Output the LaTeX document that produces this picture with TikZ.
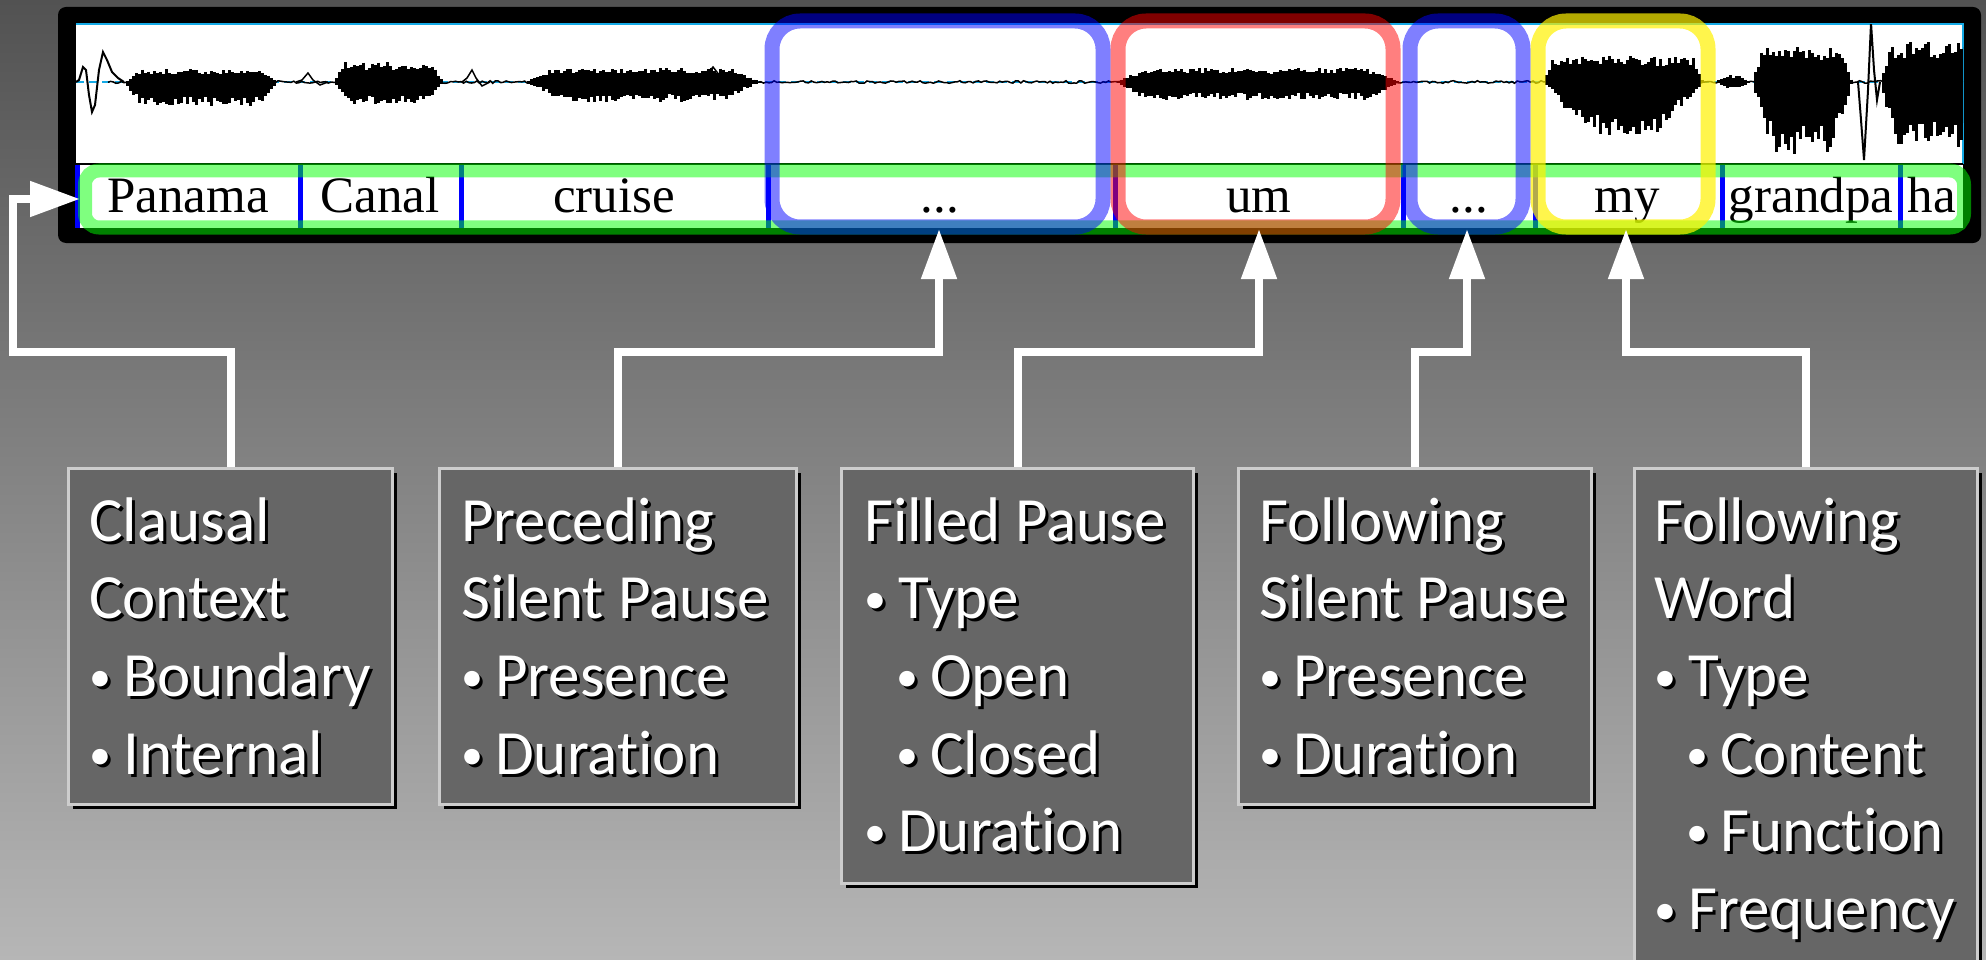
\documentclass[tikz,border=0pt]{standalone}
\usepackage{fontspec}
\setmainfont[Ligatures={NoCommon}]{Carlito}
\newfontfamily\tierfont{Liberation Serif}
\usetikzlibrary{arrows.meta}
\definecolor{bgtop}{RGB}{82,82,82}
\definecolor{bgbot}{RGB}{182,182,182}
\definecolor{boxfill}{RGB}{102,102,102}
\definecolor{boxline}{RGB}{205,205,205}
\definecolor{tiercyan}{RGB}{20,170,230}
\newcommand\bul{\makebox[34pt][l]{\raisebox{5pt}{\fontsize{44}{44}\selectfont•}}}
\newcommand\sbul{\hspace*{32pt}\bul}
\newcommand\wseg[6]{%
  \pgfmathtruncatemacro\wn{(#2-#1)/3}%
  \pgfmathsetmacro\wk{540/(#2-#1)}%
  \foreach \i in {0,...,\wn}{%
    \pgfmathsetmacro\wx{#1+3*\i}%
    \pgfmathsetmacro\wt{max(sin(\wk*\i),0)}%
    \pgfmathsetmacro\wu{#3*min(1,#5*\wt)*(0.6+0.4*rnd)}%
    \pgfmathsetmacro\wl{#4*min(1,#6*\wt)*(0.6+0.4*rnd)}%
    \draw[wave] (\wx,82-\wu) -- (\wx,82+\wl);
  }}
\newcommand\boxlines[4]{%
  \foreach \t [count=\i] in {#4}{%
    \node[btext, text=black] (#1s\i) at ({#2+3},{#3+3+77.7*(\i-1)}) {\t};
    \node[btext, text=white] (#1l\i) at (#2,{#3+77.7*(\i-1)}) {\t};
  }}
\newcommand\infobox[5]{%
  \fill[black] ({#2+6},{#3+6}) rectangle ({#4+6},{#5+6});
  \node[infobox, minimum width={#4-#2}, minimum height={#5-#3}] (#1) at (#2,#3) {};
}
\begin{document}
\begin{tikzpicture}[x=1pt,y=-1pt,
  wave/.style={line width=3pt, black},
  conn/.style={draw=white, line width=8pt, -{Triangle[length=50pt,width=34pt]}},
  hl/.style={line width=15pt, rounded corners=28pt, draw opacity=0.5},
  infobox/.style={draw=boxline, line width=3pt, fill=boxfill, anchor=north west, inner sep=0pt},
  btext/.style={anchor=base west, inner sep=0pt, font=\fontsize{63}{76}\selectfont},
  tier/.style={anchor=base, inner sep=0pt, font=\tierfont\fontsize{51}{51}\selectfont},
  bound/.style={draw=blue, line width=5pt}]
\useasboundingbox (0,0) rectangle (1986,960);
\shade[top color=bgtop, bottom color=bgbot] (0,0) rectangle (1986,960);

% Praat window
\fill[black, rounded corners=8pt] (58,7) rectangle (1981,243);
\fill[white] (76,23) rectangle (1963,228);
\draw[tiercyan, line width=2pt] (76,24) -- (1963,24) -- (1963,164);
\draw[tiercyan, line width=1.5pt, dash pattern=on 8pt off 5pt] (76,82) -- (1963,82);

% waveform
\pgfmathsetseed{7}
\begin{scope}
\clip (76,25) rectangle (1963,163);
\draw[black, line width=1.5pt] plot[domain=108:1963, samples=700] (\x,{82+1.3*rand});
\draw[black, line width=2pt] (76,82) -- (79,80) -- (83,67) -- (86,70) -- (89,95) -- (92,112) -- (95,105) -- (99,70) -- (103,52) -- (107,60) -- (112,72) -- (118,78) -- (124,82);
\draw[black, line width=1.5pt] (296,82) -- (302,80) -- (308,73) -- (313,80) -- (320,85) -- (328,82);
\draw[black, line width=1.5pt] (462,82) -- (467,78) -- (472,70) -- (476,78) -- (482,86) -- (490,82);
\draw[black, line width=1.5pt] (700,82) -- (706,76) -- (713,67) -- (720,76) -- (727,89) -- (735,85) -- (742,82);
\draw[black, line width=2pt] (1858,82) -- (1861,120) -- (1864,160) -- (1868,90) -- (1871,23) -- (1874,70) -- (1877,100) -- (1880,82);
\wseg{124}{277}{13}{24}{3}{3}
\wseg{333}{443}{20}{22}{3}{2.5}
\wseg{525}{760}{14}{20}{2.7}{2}
\wseg{1115}{1400}{14}{18}{3}{3}
\wseg{1543}{1703}{26}{54}{5}{1.2}
\wseg{1715}{1750}{7}{7}{1}{1}
\wseg{1752}{1852}{36}{72}{3}{1.6}
\wseg{1880}{2000}{40}{66}{3.5}{2.5}
\end{scope}
\draw[black, line width=2pt] (76,164) -- (1963,164);

% tier boundaries
\foreach \bx in {77,300,461,768,1115,1403,1535,1722,1900}
  \draw[bound] (\bx,165) -- (\bx,228);

% tier words
\node[tier] (w1) at (188,213) {Panama};
\node[tier] (w2) at (380,213) {Canal};
\node[tier] (w3) at (614,213) {cruise};
\node[tier] (w4) at (940,213) {...};
\node[tier] (w5) at (1259,213) {um};
\node[tier] (w6) at (1469,213) {...};
\node[tier] (w7) at (1627,213) {my};
\node[tier] (w8) at (1811,213) {grandpa};
\node[tier] (w9) at (1932,213) {ha};

% green tier highlight
\draw[green, line width=14pt, draw opacity=0.5, rounded corners=14pt] (85,170.5) rectangle (1964,227.5);

% highlight boxes
\draw[hl, draw=blue] (772,21) rectangle (1103,227);
\draw[hl, draw=red] (1118,21) rectangle (1393,227);
\draw[hl, draw=blue] (1410,21) rectangle (1523,227);
\draw[hl, draw=yellow, draw opacity=0.7] (1538,21) rectangle (1708,227);

% info boxes
\infobox{b1}{67}{467}{391}{803}
\infobox{b2}{438}{467}{795}{803}
\infobox{b3}{840}{467}{1192}{882}
\infobox{b4}{1237}{467}{1590}{803}
\infobox{b5}{1633}{467}{1976}{990}

\boxlines{b1}{89}{541}{Clausal, Context, \bul Boundary, \bul Internal}
\boxlines{b2}{461}{541}{Preceding, Silent Pause, \bul Presence, \bul Duration}
\boxlines{b3}{864}{541}{Filled Pause, \bul Type, \sbul Open, \sbul Closed, \bul Duration}
\boxlines{b4}{1259}{541}{Following, Silent Pause, \bul Presence, \bul Duration}
\boxlines{b5}{1654}{541}{Following, Word, \bul Type, \sbul Content, \sbul Function, \bul Frequency}

% connectors
\coordinate (t1) at (80,199);
\coordinate (t2) at (939,229);
\coordinate (t3) at (1259,229);
\coordinate (t4) at (1467,229);
\coordinate (t5) at (1626,229);
\draw[conn] (b1.north) |- (13,352) |- (t1);
\draw[conn] (b2.north) -- ++(0,-115) -| (t2);
\draw[conn] (b3.north) -- ++(0,-115) -| (t3);
\draw[conn] (b4.north) -- ++(0,-115) -| (t4);
\draw[conn] (b5.north) -- ++(0,-115) -| (t5);
\end{tikzpicture}
\end{document}
